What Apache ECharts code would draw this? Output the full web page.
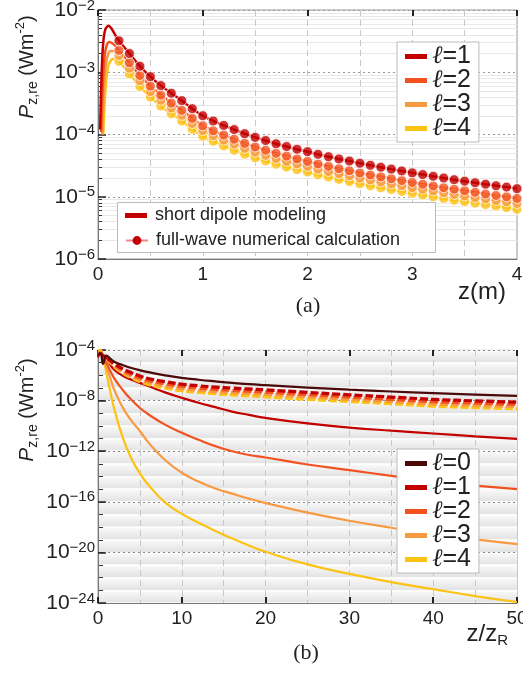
<!DOCTYPE html>
<html><head><meta charset="utf-8">
<script src="https://cdn.jsdelivr.net/npm/echarts@6/dist/echarts.min.js"></script>
<style>html,body{margin:0;padding:0;background:#fff}#c{width:523px;height:673px}</style>
</head><body><div id="c"></div>
<script>
// ---------- panel (a) : P_z,re vs z (m), log scale ----------
const zMarks = [0.2,0.3,0.4,0.5,0.6,0.7,0.8,0.9,1.0,1.1,1.2,1.3,1.4,1.5,1.6,1.7,1.8,1.9,2.0,2.1,2.2,2.3,2.4,2.5,2.6,2.7,2.8,2.9,3.0,3.1,3.2,3.3,3.4,3.5,3.6,3.7,3.8,3.9,4.0];
const fw1 = [3.2e-3,2.0e-3,1.25e-3,8.5e-4,6.1e-4,4.6e-4,3.5e-4,2.6e-4,2.0e-4,1.65e-4,1.4e-4,1.2e-4,1.03e-4,9.0e-5,8.0e-5,7.1e-5,6.4e-5,5.8e-5,5.3e-5,4.8e-5,4.4e-5,4.05e-5,3.75e-5,3.45e-5,3.2e-5,2.98e-5,2.78e-5,2.6e-5,2.42e-5,2.27e-5,2.13e-5,2.0e-5,1.88e-5,1.78e-5,1.68e-5,1.59e-5,1.5e-5,1.43e-5,1.35e-5];
const fw2 = [2.25e-3,1.42e-3,8.9e-4,6.0e-4,4.3e-4,3.2e-4,2.45e-4,1.82e-4,1.38e-4,1.15e-4,9.8e-5,8.4e-5,7.2e-5,6.3e-5,5.6e-5,5.0e-5,4.5e-5,4.05e-5,3.7e-5,3.36e-5,3.08e-5,2.83e-5,2.62e-5,2.41e-5,2.24e-5,2.09e-5,1.95e-5,1.82e-5,1.7e-5,1.59e-5,1.49e-5,1.4e-5,1.32e-5,1.25e-5,1.18e-5,1.11e-5,1.05e-5,1.0e-5,9.4e-6];
const fw3 = [1.86e-3,1.16e-3,7.3e-4,4.9e-4,3.55e-4,2.67e-4,2.03e-4,1.51e-4,1.16e-4,9.6e-5,8.1e-5,7.0e-5,6.0e-5,5.2e-5,4.64e-5,4.12e-5,3.71e-5,3.36e-5,3.07e-5,2.78e-5,2.55e-5,2.35e-5,2.18e-5,2.0e-5,1.86e-5,1.73e-5,1.61e-5,1.51e-5,1.4e-5,1.32e-5,1.24e-5,1.16e-5,1.09e-5,1.03e-5,9.7e-6,9.2e-6,8.7e-6,8.3e-6,7.8e-6];
const fw4 = [1.5e-3,9.4e-4,5.9e-4,4.0e-4,2.87e-4,2.16e-4,1.65e-4,1.22e-4,9.4e-5,7.8e-5,6.6e-5,5.6e-5,4.84e-5,4.23e-5,3.76e-5,3.34e-5,3.0e-5,2.73e-5,2.49e-5,2.26e-5,2.07e-5,1.9e-5,1.76e-5,1.62e-5,1.5e-5,1.4e-5,1.31e-5,1.22e-5,1.14e-5,1.07e-5,1.0e-5,9.4e-6,8.8e-6,8.4e-6,7.9e-6,7.5e-6,7.1e-6,6.7e-6,6.3e-6];
// short-dipole curves: rising part before the first full-wave point
const zHead1 = [0.02,0.035,0.05,0.07,0.1,0.13,0.16];
const head1  = [1.2e-4,1.0e-3,3.0e-3,4.9e-3,5.6e-3,5.0e-3,4.1e-3];
const zHead2 = [0.03,0.045,0.06,0.08,0.11,0.14,0.17];
const head2  = [1.1e-4,6.0e-4,1.6e-3,2.6e-3,3.05e-3,2.9e-3,2.6e-3];
const zHead3 = [0.04,0.055,0.07,0.09,0.12,0.15,0.18];
const head3  = [1.0e-4,4.5e-4,1.1e-3,1.8e-3,2.2e-3,2.2e-3,2.05e-3];
const zHead4 = [0.05,0.065,0.08,0.1,0.13,0.16,0.19];
const head4  = [1.0e-4,3.5e-4,8.0e-4,1.3e-3,1.6e-3,1.65e-3,1.55e-3];
const aXTicks = [0,1,2,3,4];

// ---------- panel (b) : exponent of P_z,re vs z/zR ----------
const xB = [0,0.3,0.6,1,1.5,2,3,4,5,6,8,10,12,14,16,18,20,25,30,35,40,45,50];
const b0 = [-4.4,-4.25,-5.1,-4.45,-4.7,-4.95,-5.2,-5.42,-5.6,-5.75,-6.0,-6.2,-6.35,-6.48,-6.6,-6.7,-6.78,-6.97,-7.14,-7.28,-7.41,-7.52,-7.62];
const b1 = [-4.6,-4.3,-4.4,-4.6,-5.2,-5.6,-6.05,-6.35,-6.6,-6.85,-7.35,-7.78,-8.17,-8.52,-8.87,-9.13,-9.37,-9.8,-10.13,-10.38,-10.6,-10.83,-11.03];
const b2 = [-4.3,-4.2,-4.5,-5.0,-5.7,-6.3,-7.2,-7.95,-8.58,-9.08,-9.9,-10.55,-11.1,-11.6,-12.0,-12.3,-12.5,-13.05,-13.5,-13.95,-14.4,-14.72,-15.0];
const b3 = [-4.2,-4.1,-4.6,-5.3,-6.3,-7.25,-8.6,-9.6,-10.4,-11.3,-12.7,-13.7,-14.4,-14.95,-15.35,-15.75,-16.1,-16.85,-17.5,-18.05,-18.55,-18.97,-19.35];
const b4 = [-4.0,-4.0,-4.5,-5.8,-7.4,-8.8,-11.0,-12.6,-13.75,-14.65,-16.05,-16.95,-17.65,-18.3,-18.9,-19.45,-19.95,-20.95,-21.7,-22.35,-22.9,-23.45,-23.92];
const d1 = [-4.4,-4.3,-4.45,-4.6,-4.85,-5.1,-5.5,-5.8,-6.05,-6.25,-6.5,-6.7,-6.83,-6.93,-7.01,-7.08,-7.15,-7.35,-7.54,-7.72,-7.9,-8.02,-8.12];
const d2 = [-4.4,-4.3,-4.47,-4.63,-4.9,-5.18,-5.62,-5.95,-6.2,-6.41,-6.67,-6.87,-7.0,-7.11,-7.19,-7.26,-7.33,-7.53,-7.72,-7.9,-8.08,-8.2,-8.3];
const d3 = [-4.4,-4.3,-4.5,-4.66,-4.96,-5.27,-5.74,-6.08,-6.35,-6.57,-6.84,-7.05,-7.18,-7.29,-7.37,-7.44,-7.51,-7.71,-7.9,-8.08,-8.26,-8.38,-8.47];
const d4 = [-4.4,-4.3,-4.52,-4.7,-5.02,-5.35,-5.85,-6.2,-6.5,-6.72,-7.0,-7.22,-7.35,-7.46,-7.54,-7.62,-7.7,-7.9,-8.07,-8.25,-8.43,-8.55,-8.64];

const names = ['ℓ=0','ℓ=1','ℓ=2','ℓ=3','ℓ=4'];
const colors = ['#4b0a0a','#c20000','#f2521f','#f89a42','#fcc214'];

// ---------- helpers ----------
const FONT = '"Liberation Sans", Arial, sans-serif';
const zip = (xs, ys) => xs.map((x, i) => [x, ys[i]]);
const supLabel = e => '{b|10}{s|' + (e < 0 ? '−' : '') + Math.abs(e) + '}';
const labelRich = {
  b: {fontSize: 21, fontFamily: FONT, color: '#222', lineHeight: 24},
  s: {fontSize: 15, fontFamily: FONT, color: '#222', verticalAlign: 'top', lineHeight: 12}
};
const minorLog = [];
for (let d = -6; d < -2; d++) for (let k = 2; k <= 9; k++) minorLog.push(+(d + Math.log10(k)).toFixed(4));
const decadesB = [];
for (let d = -24; d <= -4; d++) decadesB.push(d);
const mkLegendRich = lh => ({
  i: {fontSize: 25, fontFamily: '"DejaVu Serif", serif', fontStyle: 'italic', color: '#222', lineHeight: lh},
  t: {fontSize: 25, fontFamily: FONT, color: '#222', lineHeight: lh}
});
const ellFmt = n => '{i|ℓ}{t|' + n.slice(1) + '}';

const chart = echarts.init(document.getElementById('c'), null, {renderer: 'canvas'});

const series = [];
const heads = [[zHead1, head1], [zHead2, head2], [zHead3, head3], [zHead4, head4]];
const fws = [fw1, fw2, fw3, fw4];
for (let l = 4; l >= 1; l--) {
  const [zh, vh] = heads[l - 1];
  series.push({
    name: names[l], type: 'line', xAxisIndex: 0, yAxisIndex: 0,
    data: zip(zh.concat(zMarks), vh.concat(fws[l - 1])),
    smooth: 0.3, showSymbol: false, symbol: 'none', z: 2,
    lineStyle: {color: colors[l], width: 2.5}, itemStyle: {color: colors[l]}
  });
}
for (let l = 4; l >= 1; l--) {
  series.push({
    name: 'full-wave ' + names[l], type: 'scatter', xAxisIndex: 0, yAxisIndex: 0,
    data: zip(zMarks, fws[l - 1]), symbol: 'circle', symbolSize: 10, z: 3,
    itemStyle: {color: colors[l], borderColor: '#fff', borderWidth: 1}
  });
}
series.push({name: 'short dipole modeling', type: 'line', xAxisIndex: 0, yAxisIndex: 0, data: [],
  lineStyle: {color: colors[1], width: 3}, itemStyle: {color: colors[1]}, symbol: 'none'});
series.push({name: 'full-wave numerical calculation', type: 'line', xAxisIndex: 0, yAxisIndex: 0, data: [],
  lineStyle: {color: '#f08a8a', width: 2}, itemStyle: {color: colors[1]}, symbol: 'circle'});

const solids = [b0, b1, b2, b3, b4];
for (let l = 4; l >= 1; l--) {
  series.push({
    name: names[l], type: 'line', xAxisIndex: 2, yAxisIndex: 2,
    data: zip(xB, solids[l]), smooth: true, symbol: 'none', z: 2,
    lineStyle: {color: colors[l], width: 2.2}, itemStyle: {color: colors[l]}
  });
}
const dashed = [null, d1, d2, d3, d4];
for (let l = 4; l >= 1; l--) {
  series.push({
    name: 'full-wave (b) ' + names[l], type: 'line', xAxisIndex: 2, yAxisIndex: 2,
    data: zip(xB, dashed[l]), smooth: true, symbol: 'none', z: 2,
    lineStyle: {color: colors[l], width: 3.2, type: [8, 3]}
  });
}
series.push({
  name: names[0], type: 'line', xAxisIndex: 2, yAxisIndex: 2,
  data: zip(xB, b0), smooth: true, symbol: 'none', z: 3,
  lineStyle: {color: colors[0], width: 2.2}, itemStyle: {color: colors[0]}
});

const gridLine = {lineStyle: {color: '#c8c8c8', type: [6, 4], width: 1}};
const yNameRich = {
  p: {fontSize: 21, fontFamily: FONT, fontStyle: 'italic', fill: '#222', lineHeight: 26},
  sb: {fontSize: 14, fontFamily: FONT, fill: '#222', verticalAlign: 'bottom', lineHeight: 12},
  n: {fontSize: 20, fontFamily: FONT, fill: '#222', lineHeight: 26},
  sp: {fontSize: 13, fontFamily: FONT, fill: '#222', verticalAlign: 'top', lineHeight: 12}
};

const option = {
  animation: false,
  backgroundColor: '#fff',
  grid: [
    {left: 98, top: 10, width: 419, height: 249, show: true, borderColor: '#999', borderWidth: 1,
     backgroundColor: '#fff', containLabel: false, outerBoundsMode: 'none'},
    {left: 98, top: 350, width: 419, height: 253, show: true, borderColor: '#999', borderWidth: 1,
     backgroundColor: '#ececec', containLabel: false, outerBoundsMode: 'none'}
  ],
  xAxis: [
    {gridIndex: 0, type: 'value', position: 'bottom', min: 0, max: 4, interval: 1, z: 1,
     axisLine: {lineStyle: {color: '#777'}}, axisTick: {show: false},
     axisLabel: {fontSize: 19, fontFamily: FONT, color: '#222', margin: 6, customValues: aXTicks},
     splitLine: gridLine, minorTick: {show: false, splitNumber: 2}, minorSplitLine: Object.assign({show: true}, gridLine)},
    {gridIndex: 0, type: 'value', position: 'top', min: 0, max: 4, interval: 1, z: 1,
     axisLine: {show: false}, axisLabel: {show: false}, splitLine: {show: false},
     axisTick: {show: true, inside: true, length: 6, lineStyle: {color: '#222', width: 2}}},
    {gridIndex: 1, type: 'value', position: 'bottom', min: 0, max: 50, interval: 10, z: 1,
     axisLine: {lineStyle: {color: '#777'}},
     axisTick: {show: true, inside: true, length: 6, lineStyle: {color: '#222', width: 2}},
     axisLabel: {fontSize: 19, fontFamily: FONT, color: '#222', margin: 6},
     splitLine: gridLine, minorTick: {show: false, splitNumber: 2}, minorSplitLine: Object.assign({show: true}, gridLine)},
    {gridIndex: 1, type: 'value', position: 'top', min: 0, max: 50, interval: 10, z: 1,
     axisLine: {show: false}, axisLabel: {show: false}, splitLine: {show: false},
     axisTick: {show: true, inside: true, length: 6, lineStyle: {color: '#222', width: 2}}}
  ],
  yAxis: [
    {gridIndex: 0, type: 'log', logBase: 10, position: 'left', min: 1e-6, max: 1e-2, z: 1,
     axisLine: {show: true, lineStyle: {color: '#777'}},
     axisTick: {show: true, inside: true, length: 8, lineStyle: {color: '#222', width: 1.5}},
     axisLabel: {margin: 3, formatter: v => supLabel(Math.round(Math.log10(v))), rich: labelRich},
     splitLine: {show: true, lineStyle: {color: '#999', type: [2, 3], width: 1}}},
    {gridIndex: 0, type: 'value', position: 'left', min: -6, max: -2, z: 0,
     axisLine: {show: false}, axisLabel: {show: false},
     axisTick: {show: true, inside: true, length: 4, customValues: minorLog, lineStyle: {color: '#333', width: 1}},
     splitLine: {show: true, lineStyle: {color: '#e8e8e8', width: 1}}},
    {gridIndex: 1, type: 'value', position: 'left', min: -24, max: -4, interval: 4, z: 1,
     axisLine: {show: true, lineStyle: {color: '#777'}},
     axisTick: {show: true, inside: true, length: 8, lineStyle: {color: '#222', width: 1.5}},
     axisLabel: {margin: 3, formatter: v => supLabel(v), rich: labelRich},
     splitLine: {show: true, lineStyle: {color: '#888', type: [2, 3], width: 1}}},
    {gridIndex: 1, type: 'value', position: 'left', min: -24, max: -4, z: 0,
     axisLine: {show: false}, axisLabel: {show: false},
     axisTick: {show: true, inside: true, length: 5, customValues: decadesB, lineStyle: {color: '#333', width: 1}},
     splitLine: {show: true, lineStyle: {color: '#ffffff', width: 1.5}},
     splitArea: {show: true, areaStyle: {color: [new echarts.graphic.LinearGradient(0, 0, 0, 1, [
       {offset: 0, color: '#fafafa'}, {offset: 1, color: '#e2e2e2'}])]}}}
  ],
  legend: [
    {data: names.slice(1), orient: 'vertical', left: 397, top: 42, padding: [2, 8, 1, 8], itemGap: -1,
     itemWidth: 22, itemHeight: 5, icon: 'rect', selectedMode: false,
     backgroundColor: '#fff', borderColor: '#bbb', borderWidth: 1, borderRadius: 0,
     formatter: ellFmt, textStyle: {lineHeight: 22, rich: mkLegendRich(22)}},
    {data: [{name: 'short dipole modeling', icon: 'rect'}], orient: 'vertical', left: 125, top: 204,
     padding: 0, itemWidth: 22, itemHeight: 5, selectedMode: false, z: 5,
     textStyle: {fontSize: 18, fontFamily: FONT, color: '#222', lineHeight: 23, padding: [0, 0, 0, 3]}},
    {data: ['full-wave numerical calculation'], orient: 'vertical', left: 125, top: 229,
     padding: 0, itemWidth: 22, itemHeight: 11, selectedMode: false, z: 5,
     textStyle: {fontSize: 18, fontFamily: FONT, color: '#222', lineHeight: 23, padding: [0, 0, 0, 3]}},
    {data: names, orient: 'vertical', left: 397, top: 449, padding: [2, 8, 1, 8], itemGap: -1,
     itemWidth: 22, itemHeight: 5, icon: 'rect', selectedMode: false,
     backgroundColor: '#fff', borderColor: '#bbb', borderWidth: 1, borderRadius: 0,
     formatter: ellFmt, textStyle: {lineHeight: 23, rich: mkLegendRich(23)}}
  ],
  graphic: [
    {type: 'rect', shape: {x: 117.5, y: 202.5, width: 318, height: 50}, z: 4,
     style: {fill: '#fff', stroke: '#bbb', lineWidth: 1}},
    {type: 'text', x: 27, y: 67, rotation: Math.PI / 2, z: 10,
     style: {text: '{p|P}{sb|z,re}{n| (Wm}{sp|-2}{n|)}', align: 'center', verticalAlign: 'middle', rich: yNameRich}},
    {type: 'text', x: 27, y: 410, rotation: Math.PI / 2, z: 10,
     style: {text: '{p|P}{sb|z,re}{n| (Wm}{sp|-2}{n|)}', align: 'center', verticalAlign: 'middle', rich: yNameRich}},
    {type: 'text', x: 506, y: 292, z: 10,
     style: {text: 'z(m)', align: 'right', verticalAlign: 'middle', font: '24px ' + FONT, fill: '#222'}},
    {type: 'text', x: 508, y: 634, z: 10,
     style: {text: '{n|z/z}{sb|R}', align: 'right', verticalAlign: 'middle',
       rich: {n: {fontSize: 24, fontFamily: FONT, fill: '#222', lineHeight: 28},
              sb: {fontSize: 15, fontFamily: FONT, fill: '#222', verticalAlign: 'bottom', lineHeight: 14}}}},
    {type: 'text', x: 308, y: 306, z: 10,
     style: {text: '(a)', align: 'center', verticalAlign: 'middle', font: '22px "Liberation Serif", serif', fill: '#222'}},
    {type: 'text', x: 306, y: 653, z: 10,
     style: {text: '(b)', align: 'center', verticalAlign: 'middle', font: '22px "Liberation Serif", serif', fill: '#222'}}
  ],
  series: series
};
chart.setOption(option);
</script></body></html>
